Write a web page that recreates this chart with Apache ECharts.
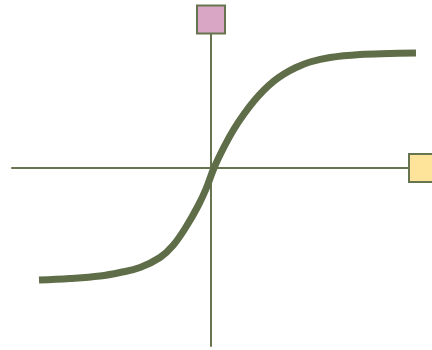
<!DOCTYPE html>
<html>
<head>
<meta charset="utf-8">
<script src="https://cdn.jsdelivr.net/npm/echarts@6/dist/echarts.min.js"></script>
<style>
  html, body { margin: 0; padding: 0; background: #fff; }
  #chart { width: 432px; height: 350px; }
</style>
</head>
<body>
<div id="chart"></div>
<script>
// curve
const curveX = [-3.44, -2.82, -2.22, -1.82, -1.42, -1.02, -0.76, -0.5, -0.26, -0.1, 0.06,
  0.26, 0.46, 0.66, 0.86, 1.06, 1.26, 1.46, 1.7, 1.98, 2.38, 2.98, 3.58, 4.1];
const curveY = [-2.24, -2.21, -2.16, -2.09, -1.99, -1.79, -1.55, -1.18, -0.76, -0.42, 0,
  0.42, 0.78, 1.08, 1.34, 1.56, 1.74, 1.88, 2.01, 2.12, 2.21, 2.27, 2.29, 2.3];

// axis extents
const xRange = [-3.98, 4.24];
const yRange = [-3.56, 2.97];

const lineColor = '#5f6e48';
const axisColor = '#66744f';

const chart = echarts.init(document.getElementById('chart'));

const axisCommon = {
  type: 'value',
  axisLine: { show: true, onZero: true, lineStyle: { color: axisColor, width: 2 } },
  axisTick: { show: false },
  axisLabel: { show: false },
  splitLine: { show: false }
};

chart.setOption({
  animation: false,
  grid: { left: 12, right: 9, top: 19.5, bottom: 4 },
  xAxis: Object.assign({}, axisCommon, { min: xRange[0], max: xRange[1] }),
  yAxis: Object.assign({}, axisCommon, { min: yRange[0], max: yRange[1] }),
  series: [
    {
      type: 'line',
      data: curveX.map((x, i) => [x, curveY[i]]),
      smooth: 0.4,
      showSymbol: false,
      lineStyle: { color: lineColor, width: 7, cap: 'butt' }
    },
    {
      // end markers of the axes
      type: 'scatter',
      clip: false,
      symbol: 'rect',
      symbolSize: 28,
      data: [
        { value: [0, yRange[1]], itemStyle: { color: '#d9a6c6' } },
        { value: [xRange[1], 0], itemStyle: { color: '#fde49a' } }
      ],
      itemStyle: { borderColor: axisColor, borderWidth: 2, opacity: 1 },
      z: 5
    }
  ]
});
</script>
</body>
</html>
